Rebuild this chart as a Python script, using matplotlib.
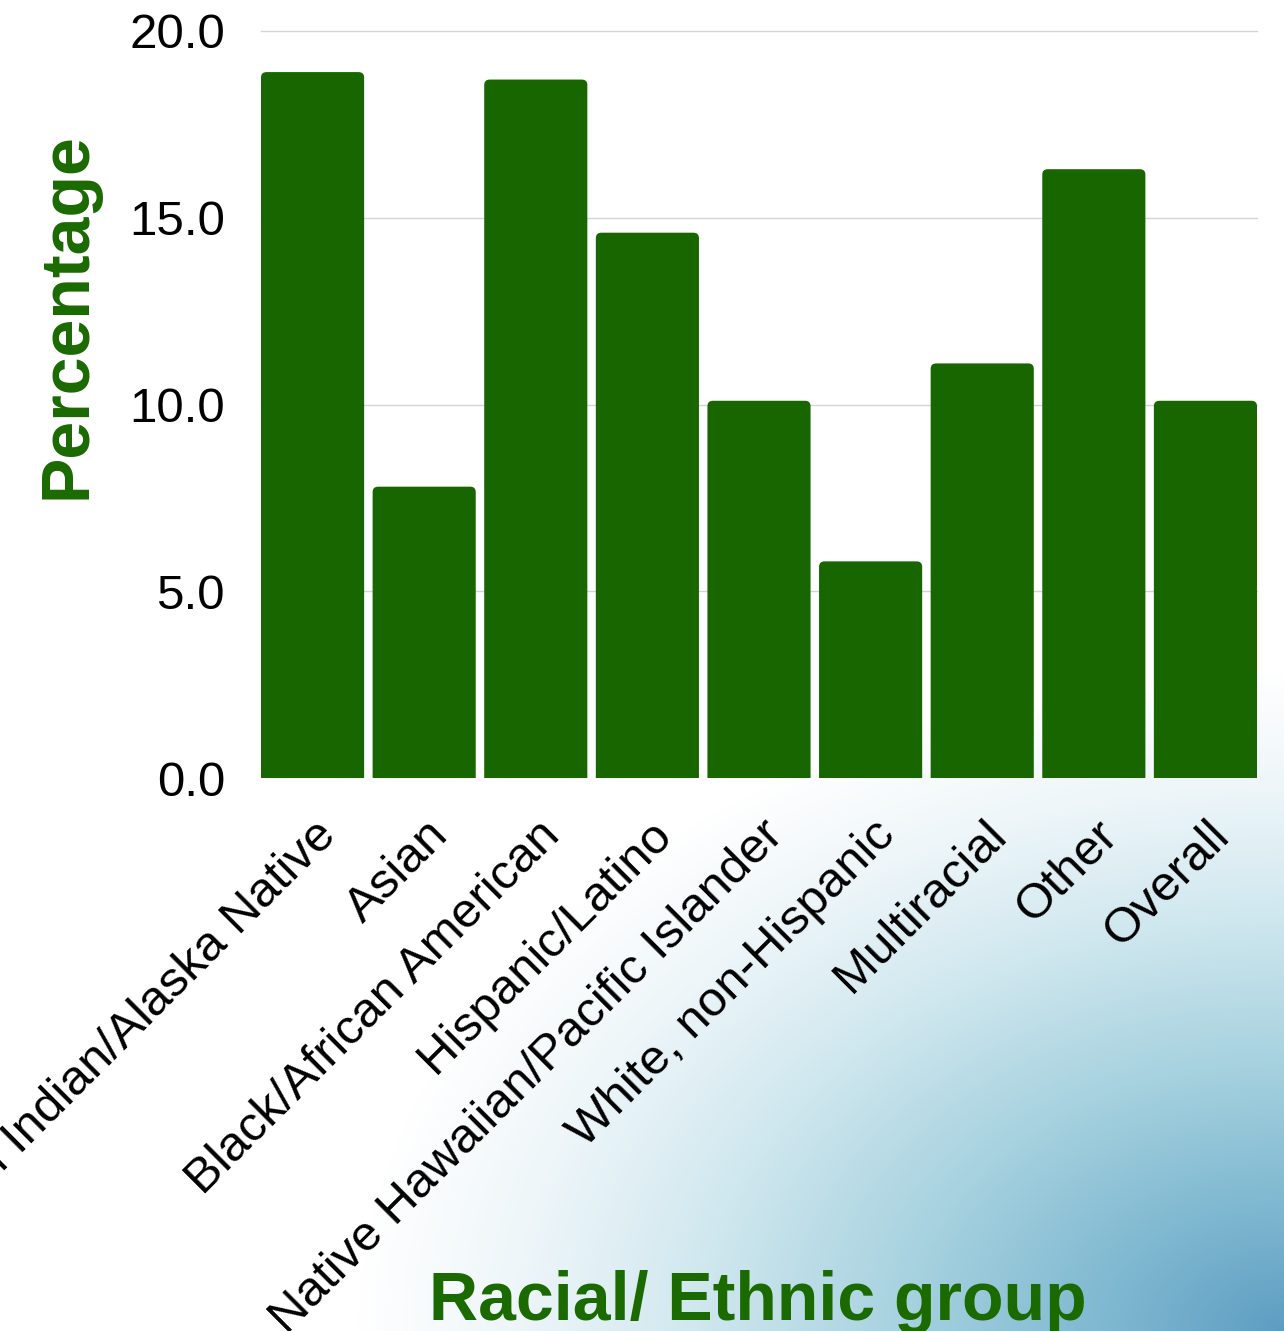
"""
Share of respondents by racial / ethnic group, bar chart with a soft
corner gradient behind it.
"""
import numpy as np
import matplotlib
matplotlib.use("Agg")
import matplotlib.pyplot as plt
from matplotlib.patches import FancyBboxPatch
from matplotlib.colors import LinearSegmentedColormap
import matplotlib.transforms as mtransforms

groups = [
    "American Indian/Alaska Native",
    "Asian",
    "Black/African American",
    "Hispanic/Latino",
    "Native Hawaiian/Pacific Islander",
    "White, non-Hispanic",
    "Multiracial",
    "Other",
    "Overall",
]
percentages = [18.9, 7.8, 18.7, 14.6, 10.1, 5.8, 11.1, 16.3, 10.1]
y_ticks = [0, 5, 10, 15, 20]

BAR_GREEN = "#176600"
LABEL_GREEN = "#1a6a00"
GRID = "#d4d4d4"
FONT = ["Liberation Sans", "DejaVu Sans"]

W, H, DPI = 1284, 1331, 100
plt.rcParams["font.family"] = FONT

fig = plt.figure(figsize=(W / DPI, H / DPI), dpi=DPI)
fig.patch.set_facecolor("white")

# ── background: elliptical gradient out of the bottom-right corner ──────
bg = fig.add_axes([0, 0, 1, 1], zorder=-10)
bg.set_axis_off()
yy, xx = np.mgrid[0:H, 0:W]
r = np.sqrt(((W - xx) / 930.0) ** 2 + ((H - yy) / 660.0) ** 2)
cmap = LinearSegmentedColormap.from_list(
    "corner",
    [(0.0, "#5e9dc2"), (0.2, "#80b9d1"), (0.42, "#a9d3e0"),
     (0.65, "#d3e9f0"), (0.83, "#eef6f9"), (1.0, "#ffffff")],
)
bg.imshow(np.clip(r, 0, 1), cmap=cmap, vmin=0, vmax=1,
          extent=(0, 1, 0, 1), aspect="auto", origin="upper",
          interpolation="bilinear")
bg.set_xlim(0, 1)
bg.set_ylim(0, 1)

# ── main axes ──────────────────────────────────────────────────────────
ax = fig.add_axes([261 / W, 1 - 778 / H, (1257 - 261) / W, (778 - 31) / H])
ax.patch.set_alpha(0)

x = np.arange(len(groups))
bar_w = 0.924
bars = ax.bar(x, percentages, width=bar_w, color=BAR_GREEN, zorder=2)

# swap the plain rectangles for ones with rounded top corners
for b in bars:
    bx, bh = b.get_x(), b.get_height()
    b.remove()
    rounded = FancyBboxPatch(
        (bx, -1.0), bar_w, bh + 1.0,
        boxstyle="round,pad=0,rounding_size=0.05",
        mutation_aspect=2.9,
        facecolor=BAR_GREEN, edgecolor="none", zorder=2,
    )
    ax.add_patch(rounded)

ax.set_xlim(-bar_w / 2, len(groups) - 1 + bar_w / 2)
ax.set_ylim(0, 20)

for yv in y_ticks[1:]:
    ax.axhline(yv, color=GRID, linewidth=1.0, zorder=1, clip_on=False)

ax.set_yticks(y_ticks)
ax.set_yticklabels([f"{v:.1f}" for v in y_ticks], fontsize=35.5, color="black")
ax.tick_params(axis="y", length=0, pad=26)

ax.set_xticks(x)
ax.set_xticklabels(groups, fontsize=35.5, rotation=45, ha="right",
                   va="center", rotation_mode="anchor")
ax.tick_params(axis="x", length=0, pad=36)
shift = mtransforms.ScaledTranslation(17 / DPI, 0, fig.dpi_scale_trans)
for lbl in ax.get_xticklabels():
    lbl.set_transform(lbl.get_transform() + shift)

for spine in ax.spines.values():
    spine.set_visible(False)

# ── axis titles ────────────────────────────────────────────────────────
fig.text(68 / W, 1 - 316 / H, "Percentage", rotation=90, ha="center",
         va="center", fontsize=49, fontweight="bold", color=LABEL_GREEN)
fig.text(758 / W, 1 - 1320 / H, "Racial/ Ethnic group", ha="center",
         va="baseline", fontsize=49, fontweight="bold", color=LABEL_GREEN)

fig.savefig("out.png", dpi=DPI, facecolor="white")
